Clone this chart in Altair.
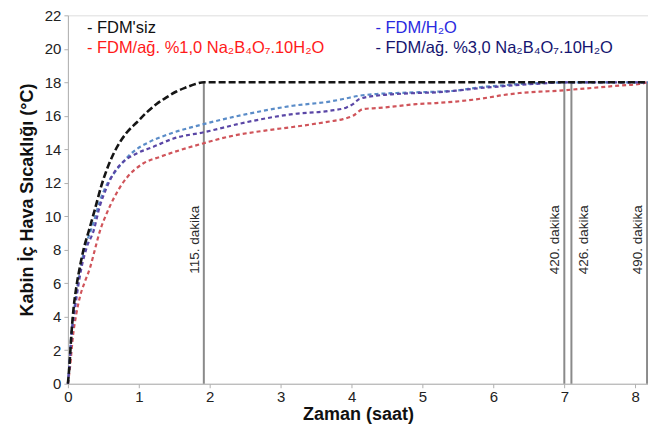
import altair as alt
import pandas as pd

FONT = "Liberation Sans"

# ---- data (hours, °C) ----
black_t = [0, 0.02, 0.05, 0.08, 0.12, 0.17, 0.22, 0.30, 0.38, 0.47, 0.55, 0.64, 0.73, 0.83, 0.97, 1.11, 1.25, 1.39, 1.53, 1.67, 1.80, 1.92, 8.18]
black_v = [0, 1.0, 3.0, 4.5, 5.8, 7.0, 8.0, 9.2, 10.4, 11.8, 12.8, 13.7, 14.4, 15.0, 15.6, 16.2, 16.7, 17.1, 17.45, 17.7, 17.9, 18.0, 18.0]

blue_t = [0, 0.02, 0.05, 0.10, 0.19, 0.27, 0.36, 0.45, 0.55, 0.64, 0.73, 0.92, 1.15, 1.44, 1.93, 2.52, 3.17, 3.69, 3.88, 4.11, 4.35, 4.63, 4.91, 5.19, 5.47, 5.80, 6.08, 6.37, 6.65, 7.10, 8.18]
blue_v = [0, 1.1, 3.0, 4.8, 7.2, 8.5, 9.6, 10.9, 11.9, 12.5, 13.0, 13.85, 14.44, 14.93, 15.52, 16.1, 16.6, 16.85, 17.0, 17.2, 17.3, 17.36, 17.4, 17.44, 17.5, 17.7, 17.8, 17.9, 17.95, 18.0, 18.0]

purple_t = [0, 0.02, 0.05, 0.10, 0.19, 0.27, 0.36, 0.45, 0.545, 0.65, 0.78, 0.97, 1.20, 1.48, 1.93, 2.52, 3.17, 3.69, 3.93, 4.02, 4.11, 4.35, 4.63, 4.91, 5.19, 5.47, 5.80, 6.08, 6.37, 6.65, 7.00, 8.18]
purple_v = [0, 1.0, 2.8, 4.5, 6.9, 8.2, 9.1, 10.6, 11.7, 12.6, 13.25, 13.75, 14.14, 14.63, 15.03, 15.62, 16.1, 16.3, 16.5, 16.7, 17.0, 17.2, 17.3, 17.36, 17.4, 17.5, 17.65, 17.75, 17.85, 17.92, 18.0, 18.0]

red_t = [0, 0.03, 0.07, 0.12, 0.17, 0.24, 0.31, 0.38, 0.45, 0.55, 0.65, 0.76, 0.83, 1.06, 1.30, 1.58, 1.93, 2.24, 2.80, 3.17, 3.69, 3.88, 4.02, 4.16, 4.39, 4.63, 4.91, 5.19, 5.47, 5.71, 5.94, 6.08, 6.37, 6.65, 6.93, 7.21, 7.49, 7.77, 8.06, 8.17]
red_v = [0, 1.0, 2.8, 4.2, 5.2, 6.1, 6.9, 8.0, 9.1, 10.2, 11.1, 11.9, 12.3, 13.15, 13.55, 13.95, 14.38, 14.73, 15.13, 15.33, 15.66, 15.8, 16.0, 16.4, 16.47, 16.57, 16.7, 16.76, 16.85, 16.96, 17.1, 17.2, 17.36, 17.44, 17.5, 17.6, 17.7, 17.8, 17.9, 18.0]

series_names = ["FDM'siz", "FDM/ağ. %1,0 Na₂B₄O₇.10H₂O", "FDM/H₂O", "FDM/ağ. %3,0 Na₂B₄O₇.10H₂O"]
series_data = [(black_t, black_v), (red_t, red_v), (blue_t, blue_v), (purple_t, purple_v)]
line_colors = ["#151515", "#d0545a", "#5a8cc8", "#5a46a6"]
text_colors = ["#111111", "#ff1a1a", "#2a2ae0", "#141470"]

x_ticks = [0, 1, 2, 3, 4, 5, 6, 7, 8]
y_ticks = [0, 2, 4, 6, 8, 10, 12, 14, 16, 18, 20, 22]

marker_minutes = [115, 420, 426, 490]
marker_top = 18

rows = []
for name, (ts, vs) in zip(series_names, series_data):
    for t, v in zip(ts, vs):
        rows.append({"series": name, "t": t, "v": v})
df = pd.DataFrame(rows)

mk = pd.DataFrame({
    "t": [m / 60 for m in marker_minutes],
    "lbl": [f"{m}. dakika" for m in marker_minutes],
    "top": [marker_top] * len(marker_minutes),
    "mid": [8.6] * len(marker_minutes),
})

xscale = alt.Scale(domain=[0, 8.18], nice=False, zero=False)
yscale = alt.Scale(domain=[0, 22], nice=False)

xaxis = alt.Axis(values=x_ticks, format="d", title="Zaman (saat)", grid=False,
                 labelFontSize=15, titleFontSize=18, titleFontWeight="bold",
                 labelFont=FONT, titleFont=FONT, labelColor="#222222", titleColor="#111111",
                 domainColor="#b0b0b0", tickColor="#b0b0b0", tickSize=4, labelPadding=2,
                 titlePadding=1, labelFlush=False)
yaxis = alt.Axis(values=y_ticks, format="d", title="Kabin İç Hava Sıcaklığı (°C)", grid=False,
                 labelFontSize=15, titleFontSize=18, titleFontWeight="bold",
                 labelFont=FONT, titleFont=FONT, labelColor="#222222", titleColor="#111111",
                 domainColor="#b0b0b0", tickColor="#b0b0b0", tickSize=4, labelPadding=3,
                 titlePadding=8)

X = alt.X("t:Q", scale=xscale, axis=xaxis)

color_scale = alt.Scale(domain=series_names, range=line_colors)

rules = alt.Chart(mk).mark_rule(color="#8a8a8a", strokeWidth=2).encode(
    x=X,
    y=alt.Y("top:Q", scale=yscale, axis=yaxis),
    y2=alt.datum(0),
)

black_line = alt.Chart(df[df.series == series_names[0]]).mark_line(
    strokeDash=[7, 3], strokeWidth=2.6, color=line_colors[0], interpolate="monotone"
).encode(x=X, y=alt.Y("v:Q", scale=yscale, axis=yaxis))

other_lines = alt.Chart(df[df.series != series_names[0]]).mark_line(
    strokeDash=[4, 3], strokeWidth=2.2, interpolate="monotone"
).encode(
    x=X,
    y=alt.Y("v:Q", scale=yscale, axis=yaxis),
    color=alt.Color("series:N", scale=color_scale, legend=None),
    detail="series:N",
)

left_lbl = alt.Chart(mk[mk.t != 426 / 60]).mark_text(
    angle=270, align="center", baseline="bottom", font=FONT, fontSize=13.5, color="#2a2a2a", dy=-2
).encode(x=X, y=alt.Y("mid:Q", scale=yscale, axis=yaxis), text="lbl:N")

right_lbl = alt.Chart(mk[mk.t == 426 / 60]).mark_text(
    angle=270, align="center", baseline="top", font=FONT, fontSize=13.5, color="#2a2a2a", dy=6
).encode(x=X, y=alt.Y("mid:Q", scale=yscale, axis=yaxis), text="lbl:N")

leg_df = pd.DataFrame({
    "txt": ["- " + s for s in series_names],
    "series": series_names,
    "col": [0, 0, 1, 1],
    "row": [0, 1, 0, 1],
})
legend_layers = []
for i in range(4):
    legend_layers.append(
        alt.Chart(leg_df.iloc[[i]]).mark_text(
            align="left", baseline="middle", font=FONT, fontSize=16.5, color=text_colors[i]
        ).encode(
            x=alt.value(19 if leg_df.col[i] == 0 else 308),
            y=alt.value(13 if leg_df.row[i] == 0 else 33),
            text="txt:N",
        )
    )

chart = alt.layer(rules, other_lines, black_line, left_lbl, right_lbl, *legend_layers).properties(
    width=581, height=369,
    autosize=alt.AutoSizeParams(type="none"),
    padding={"left": 60, "top": 7, "right": 0, "bottom": 40},
).configure_view(stroke="#b8b8b8", strokeWidth=1.5).configure(background="white")

chart.save("out.html", embed_options={"renderer": "svg", "actions": False})
